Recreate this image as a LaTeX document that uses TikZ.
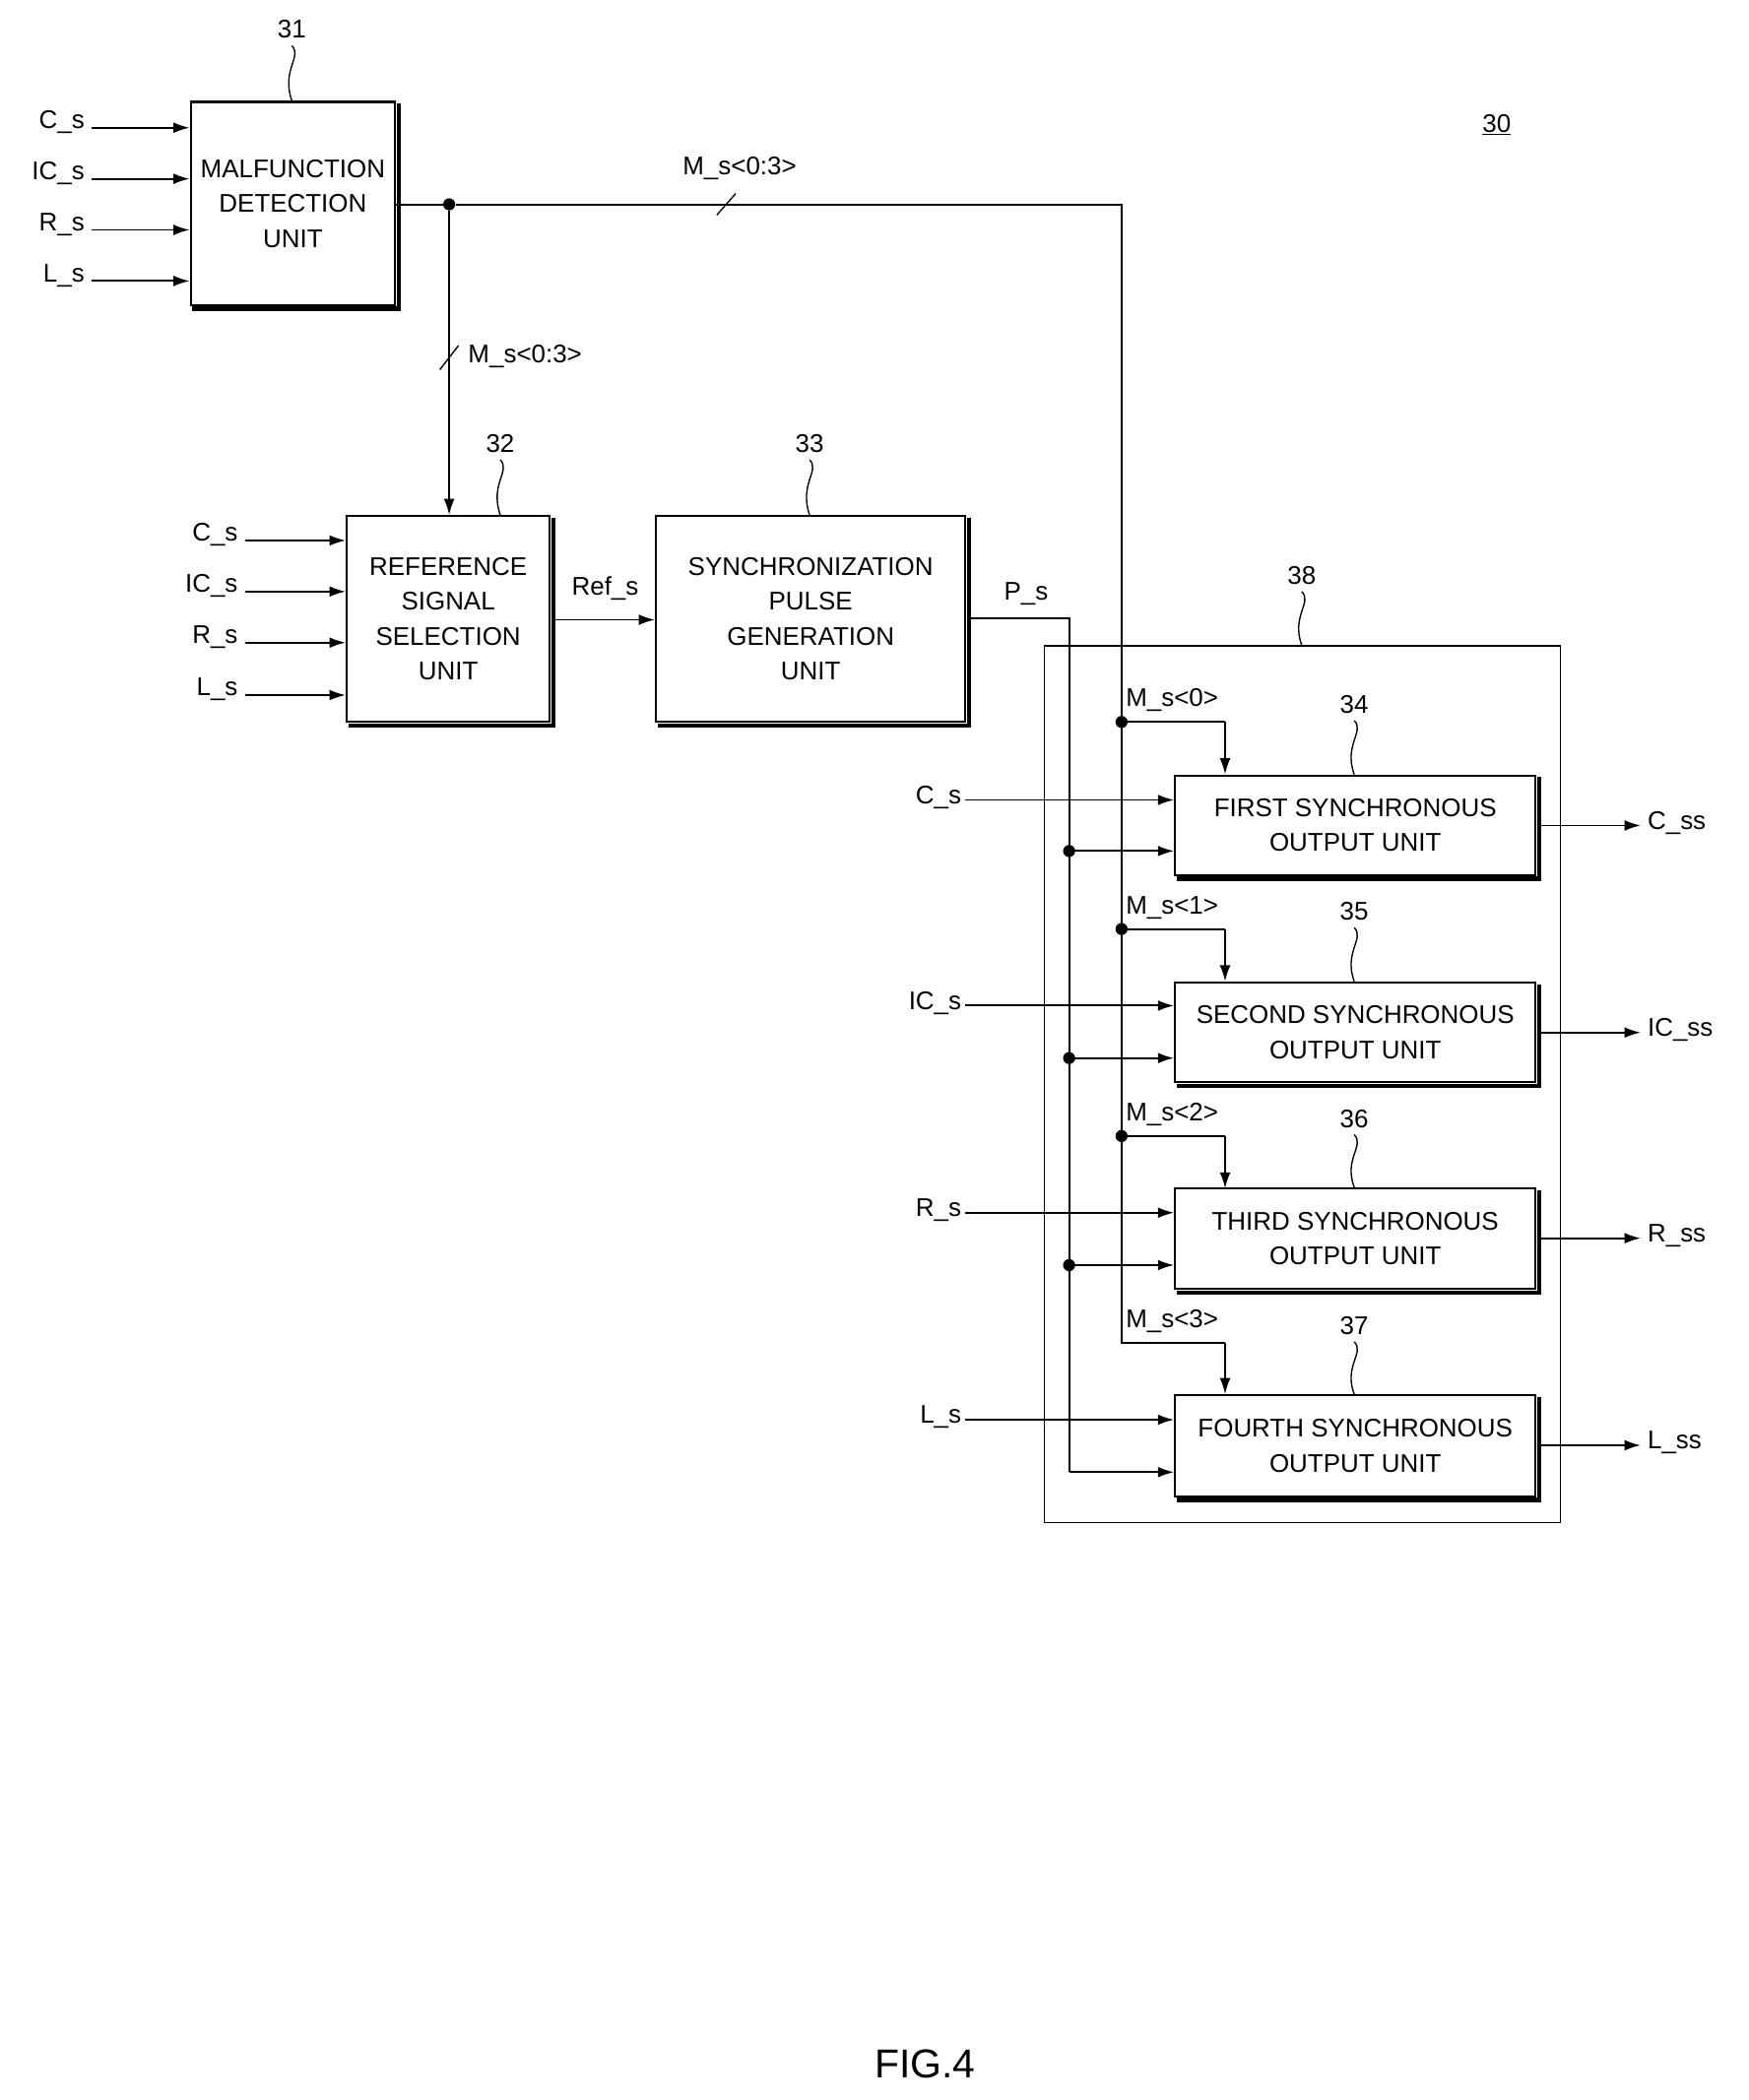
\documentclass[tikz,border=0pt]{standalone}
\usepackage{fontspec}
\setmainfont{Liberation Sans}
\usetikzlibrary{arrows.meta}
\begin{document}
\begin{tikzpicture}[x=1pt,y=-1pt,
  every node/.style={font=\fontsize{19}{22}\selectfont},
  box/.style={draw,line width=1.6pt,anchor=north west,inner sep=0pt,align=center},
  ln/.style={line width=1.4pt},
  ar/.style={ln,-{Latex[length=12pt,width=8pt]}},
  dot/.style={circle,fill,inner sep=0pt,minimum size=9pt},
  lbl/.style={inner sep=1pt}]
\useasboundingbox (0,0) rectangle (1300,1562);
\newcommand\ubox[6]{%
  \node[box,minimum width={#4-#2-4},minimum height={#5-#3-4}] (#1) at (#2,#3) {#6};
  \draw[line width=3.2pt] ([xshift=2pt,yshift=-2pt]#1.north east) -- ([xshift=2pt,yshift=-2pt]#1.south east) -- ([xshift=2pt,yshift=-2pt]#1.south west);}
\newcommand\refnum[4]{% name, x, y(text), ytop of box
  \node (#1) at (#2,#3) {#1};
  \draw[line width=1pt] (#2,#3+12) .. controls (#2+8,#3+20) and (#2-8,#3+30) .. (#2,#4);}
% boxes
\ubox{b31}{141}{75}{297}{230}{MALFUNCTION\\[4pt]DETECTION\\[4pt]UNIT}
\ubox{b32}{257}{383}{412}{540}{REFERENCE\\[4pt]SIGNAL\\[4pt]SELECTION\\[4pt]UNIT}
\ubox{b33}{487}{383}{721}{540}{SYNCHRONIZATION\\[4pt]PULSE\\[4pt]GENERATION\\[4pt]UNIT}
\node[draw,line width=1pt,anchor=north west,minimum width=384pt,minimum height=652pt,inner sep=0pt] (b38) at (776,480) {};
\ubox{b34}{873}{576}{1145}{654}{FIRST SYNCHRONOUS\\[4pt]OUTPUT UNIT}
\ubox{b35}{873}{730}{1145}{808}{SECOND SYNCHRONOUS\\[4pt]OUTPUT UNIT}
\ubox{b36}{873}{883}{1145}{962}{THIRD SYNCHRONOUS\\[4pt]OUTPUT UNIT}
\ubox{b37}{873}{1037}{1145}{1116}{FOURTH SYNCHRONOUS\\[4pt]OUTPUT UNIT}
% ref numbers
\refnum{31}{217}{22}{75}
\refnum{32}{372}{330}{383}
\refnum{33}{602}{330}{383}
\refnum{38}{968}{428}{480}
\refnum{34}{1007}{524}{576}
\refnum{35}{1007}{678}{730}
\refnum{36}{1007}{832}{883}
\refnum{37}{1007}{986}{1037}
\node (n30) at (1113,93) {\underline{30}};
\node[font=\fontsize{30}{34}\selectfont] (fig) at (688,1535) {FIG.4};
% inputs to 31 and 32
\foreach \t/\y [count=\i] in {C\_s/95,IC\_s/133,R\_s/171,L\_s/209}{
  \node[lbl,anchor=east] (ia\i) at (64,\y-4) {\t};
  \draw[ar] (68,\y) -- (141,\y);}
\foreach \t/\y [count=\i] in {C\_s/402,IC\_s/440,R\_s/478,L\_s/517}{
  \node[lbl,anchor=east] (ib\i) at (178,\y-4) {\t};
  \draw[ar] (182,\y) -- (257,\y);}
% M_s bus
\node[dot] (d0) at (334,152) {};
\draw[ln] (b31.east |- d0) -- (d0) -- (834,152) -- (834,999) -- (911,999);
\draw[ar] (911,999) -- (911,1037);
\draw[ar] (d0) -- (334,383);
\draw[line width=1pt] (327,275) -- (341,257);
\draw[line width=1pt] (533,160) -- (547,144);
\node[lbl,anchor=west] (lm1) at (347,265) {M\_s<0:3>};
\node[lbl] (lm2) at (550,125) {M\_s<0:3>};
% Ref_s, P_s
\draw[ar] (412,461) -- (487,461);
\node[lbl] (lref) at (450,438) {Ref\_s};
\draw[ln] (721,460) -- (795,460) -- (795,1095);
\draw[ar] (795,1095) -- (873,1095);
\node[lbl] (lps) at (763,442) {P\_s};
% per-unit
\foreach \y/\k in {537/0,691/1,845/2}{
  \node[dot] at (834,\y) {};
  \draw[ln] (834,\y) -- (911,\y);
  \draw[ar] (911,\y) -- (911,\y+39);}
\foreach \y/\k in {537/0,691/1,845/2,999/3}{
  \node[lbl,anchor=west] at (836,\y-16) {M\_s<\k>};}
\foreach \y in {633,787,941}{
  \node[dot] at (795,\y) {};
  \draw[ar] (795,\y) -- (873,\y);}
\foreach \t/\y in {C\_s/595,IC\_s/748,R\_s/902,L\_s/1056}{
  \node[lbl,anchor=east] at (716,\y-2) {\t};
  \draw[ar] (718,\y) -- (873,\y);}
\foreach \t/\y in {C\_ss/614,IC\_ss/768,R\_ss/921,L\_ss/1075}{
  \draw[ar] (1145,\y) -- (1220,\y);
  \node[lbl,anchor=west] at (1224,\y-2) {\t};}
\end{tikzpicture}
\end{document}
